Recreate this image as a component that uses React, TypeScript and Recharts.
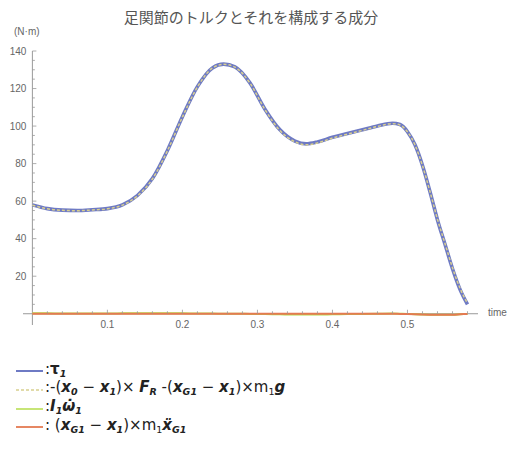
import React from "react";
import {
  LineChart,
  Line,
  XAxis,
  YAxis,
  ReferenceLine,
} from "recharts";

// time (s)
const times = [
  0, 0.02, 0.04, 0.06, 0.08, 0.1, 0.12, 0.14, 0.16, 0.18, 0.2, 0.22, 0.24,
  0.255, 0.27, 0.29, 0.31, 0.33, 0.35, 0.365, 0.38, 0.4, 0.42, 0.44, 0.46,
  0.48, 0.49, 0.5, 0.51, 0.52, 0.53, 0.54, 0.55, 0.56, 0.57, 0.58,
];

// τ1
const tau = [
  58, 56, 55.2, 55, 55.4, 56, 58, 63, 72, 87, 105, 121, 131,
  133, 131.5, 123, 109, 98, 92, 90.5, 91.5, 94, 96, 98, 100,
  101.5, 100.8, 97, 90, 79, 65, 50, 37, 24, 13, 5,
];

// -(x0-x1)×FR -(xG1-x1)×m1g
const staticPart = [
  57.8, 55.9, 55.1, 54.9, 55.3, 55.9, 57.9, 62.8, 71.8, 86.8, 104.8, 120.8, 130.9,
  132.9, 131.4, 122.9, 108.8, 97.6, 91.6, 90.0, 91.0, 93.6, 95.7, 97.7, 99.8,
  101.3, 100.6, 96.9, 89.9, 78.9, 65.1, 50.3, 37.4, 24.5, 13.6, 5.5,
];

// I1 ω̇1
const inertia = [
  0.2, 0.2, 0.1, 0.1, 0.1, 0.1, 0.2, 0.3, 0.3, 0.2, 0.2, 0.1, 0.1,
  0.0, 0.0, -0.1, -0.2, -0.3, -0.4, -0.4, -0.4, -0.3, -0.2, -0.1, 0.0,
  0.1, 0.0, -0.1, -0.3, -0.4, -0.5, -0.6, -0.6, -0.5, -0.3, -0.1,
];

// (xG1-x1)×m1ẍG1
const accel = [
  0.0, 0.0, 0.0, 0.0, 0.0, 0.0, 0.0, 0.0, 0.0, 0.0, 0.0, 0.0, 0.0,
  0.0, 0.0, 0.0, 0.0, 0.0, 0.0, 0.0, 0.0, 0.0, 0.0, 0.0, 0.0,
  0.0, -0.1, -0.2, -0.3, -0.4, -0.5, -0.6, -0.6, -0.5, -0.3, -0.1,
];

const xMajor = [0.1, 0.2, 0.3, 0.4, 0.5];
const xTicks = [
  0.02, 0.04, 0.06, 0.08, 0.1, 0.12, 0.14, 0.16, 0.18, 0.2, 0.22, 0.24, 0.26,
  0.28, 0.3, 0.32, 0.34, 0.36, 0.38, 0.4, 0.42, 0.44, 0.46, 0.48, 0.5, 0.52,
  0.54, 0.56, 0.58,
];
const yMajor = [20, 40, 60, 80, 100, 120, 140];
const yTicks = [
  5, 10, 15, 20, 25, 30, 35, 40, 45, 50, 55, 60, 65, 70, 75, 80, 85, 90, 95,
  100, 105, 110, 115, 120, 125, 130, 135, 140,
];

const data = times.map((t, i) => ({
  t,
  tau: tau[i],
  stat: staticPart[i],
  inertia: inertia[i],
  accel: accel[i],
}));

const W = 512;
const H = 340;
const M = { top: 51, right: 34, bottom: 0, left: 0 };
const Y_AXIS_W = 23;
const X_AXIS_H = 15;
const X_DOMAIN = [-0.0125, 0.594];
const Y_DOMAIN = [-6, 140];

const plotW = W - M.left - M.right - Y_AXIS_W;
const plotH = H - M.top - M.bottom - X_AXIS_H;
const X0 = M.left + Y_AXIS_W + (plotW * (0 - X_DOMAIN[0])) / (X_DOMAIN[1] - X_DOMAIN[0]);
const Y0 = M.top + (plotH * (Y_DOMAIN[1] - 0)) / (Y_DOMAIN[1] - Y_DOMAIN[0]);

const AXIS = "#999";
const LABEL = "#666";
const FONT = "'Liberation Sans', Arial, sans-serif";

function XTick(props: any) {
  const { x, payload } = props;
  const major = xMajor.some((v) => Math.abs(v - payload.value) < 1e-6);
  return (
    <g>
      <line x1={x} x2={x} y1={Y0} y2={Y0 - (major ? 4 : 2.5)} stroke={AXIS} strokeWidth={0.8} />
      {major && (
        <text x={x} y={Y0 + 14} textAnchor="middle" fontSize={10} fill={LABEL} fontFamily={FONT}>
          {payload.value.toFixed(1)}
        </text>
      )}
    </g>
  );
}

function YTick(props: any) {
  const { y, payload } = props;
  const major = yMajor.includes(payload.value);
  return (
    <g>
      <line x1={X0} x2={X0 + (major ? 4 : 2.5)} y1={y} y2={y} stroke={AXIS} strokeWidth={0.8} />
      {major && (
        <text x={X0 - 6} y={y + 3.5} textAnchor="end" fontSize={10} fill={LABEL} fontFamily={FONT}>
          {payload.value}
        </text>
      )}
    </g>
  );
}

const legendFont = "'DejaVu Sans', Verdana, sans-serif";

function Swatch({ color, dash, width }: { color: string; dash?: string; width: number }) {
  return (
    <svg width={27} height={8} style={{ marginRight: 2 }}>
      <line x1={0} x2={27} y1={4} y2={4} stroke={color} strokeWidth={width} strokeDasharray={dash} />
    </svg>
  );
}

const sub = { fontSize: 9.5, verticalAlign: "-3px" } as const;
const bi = { fontWeight: 700, fontStyle: "italic" } as const;

export default function App() {
  return (
    <div style={{ position: "absolute", left: 0, top: 0, width: 512, height: 451, background: "#fff" }}>
      <div
        style={{
          position: "absolute",
          top: 6,
          left: 0,
          width: 502,
          textAlign: "center",
          fontSize: 15,
          color: "#555",
          fontFamily: "'Noto Sans CJK JP', sans-serif",
        }}
      >
        足関節のトルクとそれを構成する成分
      </div>
      <div
        style={{
          position: "absolute",
          top: 26,
          left: 14,
          fontSize: 10,
          color: LABEL,
          fontFamily: FONT,
        }}
      >
        (N·m)
      </div>
      <div
        style={{
          position: "absolute",
          top: Y0 - 7,
          left: 488,
          fontSize: 10,
          color: LABEL,
          fontFamily: FONT,
        }}
      >
        time
      </div>
      <div style={{ position: "absolute", left: 0, top: 0 }}>
        <LineChart width={W} height={H} data={data} margin={M}>
          <XAxis
            dataKey="t"
            type="number"
            domain={X_DOMAIN}
            ticks={xTicks}
            interval={0}
            axisLine={false}
            tickLine={false}
            height={X_AXIS_H}
            tick={<XTick />}
          />
          <YAxis
            type="number"
            domain={Y_DOMAIN}
            ticks={yTicks}
            interval={0}
            axisLine={false}
            tickLine={false}
            width={Y_AXIS_W}
            tick={<YTick />}
          />
          <ReferenceLine y={0} stroke={AXIS} strokeWidth={1} />
          <ReferenceLine x={0} stroke={AXIS} strokeWidth={1} />
          <Line
            type="monotone"
            dataKey="tau"
            stroke="#6e7ac4"
            strokeWidth={3.6}
            dot={false}
            isAnimationActive={false}
          />
          <Line
            type="monotone"
            dataKey="stat"
            stroke="#d8cf8e"
            strokeWidth={1.5}
            strokeDasharray="3 2"
            dot={false}
            isAnimationActive={false}
          />
          <Line
            type="monotone"
            dataKey="inertia"
            stroke="#b5dc4a"
            strokeWidth={2}
            dot={false}
            isAnimationActive={false}
          />
          <Line
            type="monotone"
            dataKey="accel"
            stroke="#e47a52"
            strokeWidth={2}
            dot={false}
            isAnimationActive={false}
          />
        </LineChart>
      </div>
      <div
        style={{
          position: "absolute",
          left: 16,
          top: 362,
          fontFamily: legendFont,
          fontSize: 15,
          color: "#222",
          lineHeight: "18.7px",
        }}
      >
        <div style={{ display: "flex", alignItems: "center", height: 18.7 }}>
          <Swatch color="#6e7ac4" width={2} />
          <span>
            :<span style={{ fontWeight: 700 }}>τ</span>
            <span style={{ ...sub, ...bi }}>1</span>
          </span>
        </div>
        <div style={{ display: "flex", alignItems: "center", height: 18.7 }}>
          <Swatch color="#d8cf8e" width={1.5} dash="3 2" />
          <span>
            :-(<span style={bi}>x</span>
            <span style={{ ...sub, ...bi }}>0</span> − <span style={bi}>x</span>
            <span style={{ ...sub, ...bi }}>1</span>)× <span style={bi}>F</span>
            <span style={{ ...sub, ...bi }}>R</span> -(<span style={bi}>x</span>
            <span style={{ ...sub, ...bi }}>G1</span> − <span style={bi}>x</span>
            <span style={{ ...sub, ...bi }}>1</span>)×m<span style={sub}>1</span>
            <span style={bi}>g</span>
          </span>
        </div>
        <div style={{ display: "flex", alignItems: "center", height: 18.7 }}>
          <Swatch color="#b5dc4a" width={1.5} />
          <span>
            :<span style={bi}>I</span>
            <span style={{ ...sub, ...bi }}>1</span>
            <span style={bi}>ω̇</span>
            <span style={{ ...sub, ...bi }}>1</span>
          </span>
        </div>
        <div style={{ display: "flex", alignItems: "center", height: 18.7 }}>
          <Swatch color="#e47a52" width={1.8} />
          <span>
            : (<span style={bi}>x</span>
            <span style={{ ...sub, ...bi }}>G1</span> − <span style={bi}>x</span>
            <span style={{ ...sub, ...bi }}>1</span>)×m<span style={sub}>1</span>
            <span style={bi}>ẍ</span>
            <span style={{ ...sub, ...bi }}>G1</span>
          </span>
        </div>
      </div>
    </div>
  );
}
